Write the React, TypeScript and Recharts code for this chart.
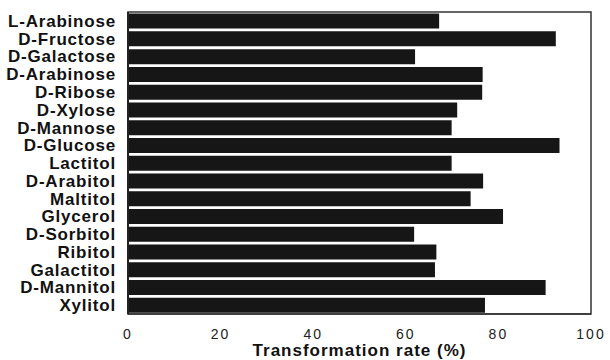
import { Bar, BarChart, ReferenceArea, XAxis, YAxis } from 'recharts';

const SUGARS = [
  'L-Arabinose',
  'D-Fructose',
  'D-Galactose',
  'D-Arabinose',
  'D-Ribose',
  'D-Xylose',
  'D-Mannose',
  'D-Glucose',
  'Lactitol',
  'D-Arabitol',
  'Maltitol',
  'Glycerol',
  'D-Sorbitol',
  'Ribitol',
  'Galactitol',
  'D-Mannitol',
  'Xylitol',
];

const RATES = [
  67.2, 92.4, 62.0, 76.6, 76.5, 71.1, 69.9, 93.2, 69.9, 76.7, 74.0, 81.0, 61.8, 66.6, 66.3, 90.2,
  77.1,
];

const X_TICKS = [0, 20, 40, 60, 80, 100];

const data = SUGARS.map((name, i) => ({ name, rate: RATES[i] }));

const FONT = '"Liberation Sans", Arial, sans-serif';

export default function App() {
  return (
    <div style={{ position: 'absolute', left: 0, top: 0, background: '#fff' }}>
      <BarChart
        width={610}
        height={360}
        data={data}
        layout="vertical"
        margin={{ top: 12, right: 19, bottom: 0, left: 0 }}
        barCategoryGap="9%"
      >
        <XAxis
          type="number"
          domain={[0, 100]}
          ticks={X_TICKS}
          tickLine={false}
          axisLine={{ stroke: '#333', strokeWidth: 1.5 }}
          tick={{ fontSize: 14, fill: '#222', fontFamily: FONT, letterSpacing: 2 }}
          tickMargin={9}
          height={46}
          label={{
            value: 'Transformation rate (%)',
            position: 'insideBottom',
            offset: 4,
            style: {
              fontSize: 17,
              fontWeight: 'bold',
              fill: '#111',
              fontFamily: FONT,
              letterSpacing: 1,
            },
          }}
        />
        <YAxis
          type="category"
          dataKey="name"
          width={128}
          tickLine={false}
          axisLine={{ stroke: '#222', strokeWidth: 2 }}
          tick={{ fontSize: 17, fontWeight: 'bold', fill: '#111', fontFamily: FONT, letterSpacing: 0.8 }}
          tickMargin={6}
          interval={0}
        />
        <ReferenceArea x1={0} x2={100} fill="none" stroke="#333" strokeWidth={1.5} />
        <Bar dataKey="rate" fill="#161616" isAnimationActive={false} />
      </BarChart>
    </div>
  );
}
